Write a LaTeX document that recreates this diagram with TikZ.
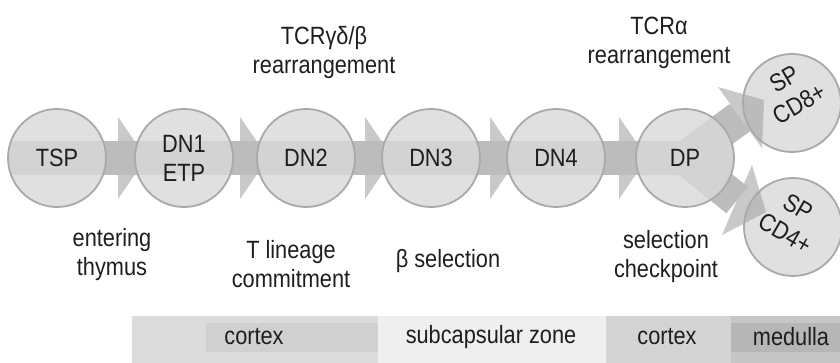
\documentclass[tikz,border=0pt]{standalone}
\usepackage{fontspec}
\setmainfont{Liberation Sans}[FakeStretch=0.87]
\usetikzlibrary{calc}
\pgfdeclarelayer{back}
\pgfdeclarelayer{front}
\pgfsetlayers{back,main,front}
\definecolor{cellfill}{HTML}{D9D9D9}
\definecolor{celledge}{HTML}{A9A9A9}
\definecolor{headfill}{HTML}{C9C9C9}
\definecolor{shaftfill}{HTML}{BCBCBC}
\definecolor{inkc}{HTML}{1E1E1E}
\definecolor{zoneA}{HTML}{DCDCDC}
\definecolor{zoneAin}{HTML}{D0D0D0}
\definecolor{zoneB}{HTML}{EFEFEF}
\definecolor{zoneC}{HTML}{D4D4D4}
\definecolor{zoneD}{HTML}{C6C6C6}
\definecolor{zoneDin}{HTML}{B6B6B6}
\begin{document}
\begin{tikzpicture}[x=1pt,y=-1pt,
  every node/.style={font=\fontsize{25}{29}\selectfont, text=inkc},
  cell/.style={circle, minimum size=98pt, inner sep=0pt, draw=celledge,
    line width=1.8pt, fill=cellfill, fill opacity=0.82, text opacity=1,
    align=center},
  lbl/.style={align=center, inner sep=0pt},
  tilted/.style={inner sep=0pt, rotate=#1},
  head/.style={fill=headfill, draw=none},
  shaft/.style={fill=shaftfill, draw=none},
]
\useasboundingbox (0,0) rectangle (840,363);

% cell stages
\node[cell] (tsp) at (57,158) {TSP};
\node[cell] (dn1) at (184,158) {DN1\\ETP};
\node[cell] (dn2) at (306,158) {DN2};
\node[cell] (dn3) at (431,158) {DN3};
\node[cell] (dn4) at (556,158) {DN4};
\node[cell] (dp)  at (685,158) {DP};
\node[cell] (sp8) at (792,103) {};
\node[cell] (sp4) at (793,227) {};

% tilted labels of the single-positive cells
\node[tilted=30]  (sp8a) at ($(sp8.center)+(-8,-24)$) {SP};
\node[tilted=30]  (sp8b) at ($(sp8.center)+(7,1)$) {CD8+};
\node[tilted=-30] (sp4a) at ($(sp4.center)+(5,-20)$) {SP};
\node[tilted=-30] (sp4b) at ($(sp4.center)+(-8,6)$) {CD4+};

% block arrows behind the cells
\begin{pgfonlayer}{back}
  \foreach \b in {dn1,dn2,dn3,dn4,dp} {
    \fill[head] ($(\b.west)+(-16,-41)$) -- ($(\b.west)+(12,0)$)
      -- ($(\b.west)+(-16,41)$) -- cycle;
  }
  % branch heads
  \fill[head] ($(dp.center)+(33,-71)$) -- ($(dp.center)+(79,-58)$)
    -- ($(dp.center)+(77,-10)$) -- cycle;
  \fill[head] ($(dp.center)+(67,7)$) -- ($(dp.center)+(81,54)$)
    -- ($(dp.center)+(37,77)$) -- cycle;
  % shafts
  \fill[shaft] ($(tsp.center)+(0,-17)$) rectangle ($(dp.center)+(0,17)$);
  \begin{scope}
    \clip (tsp.center) circle (49pt);
    \fill[shaft] ($(tsp.center)+(-60,-17)$) rectangle ($(tsp.center)+(0,17)$);
  \end{scope}
  \begin{scope}
    \clip (dp.center) circle (49pt);
    \fill[shaft] ($(dp.center)+(0,-17)$) rectangle ($(dp.center)+(60,17)$);
  \end{scope}
  \draw[shaftfill, line width=34pt] (dp.center) -- ($(dp.center)+(55,-40.5)$);
  \draw[shaftfill, line width=34pt] (dp.center) -- ($(dp.center)+(52,42)$);
\end{pgfonlayer}

% arrow tips showing through the single-positive cells
\begin{pgfonlayer}{front}
  \begin{scope}
    \clip (sp8.center) circle (48pt);
    \fill[black, fill opacity=0.12] ($(dp.center)+(33,-71)$) -- ($(dp.center)+(79,-58)$)
      -- ($(dp.center)+(77,-10)$) -- cycle;
  \end{scope}
  \begin{scope}
    \clip (sp4.center) circle (48pt);
    \fill[black, fill opacity=0.12] ($(dp.center)+(67,7)$) -- ($(dp.center)+(81,54)$)
      -- ($(dp.center)+(37,77)$) -- cycle;
  \end{scope}
\end{pgfonlayer}

% stage annotations
\node[lbl] (rgd) at (324,53) {TCRγδ/β\\rearrangement};
\node[lbl] (ra)  at (659,43) {TCRα\\rearrangement};
\node[lbl] (ent) at (112,255) {entering\\thymus};
\node[lbl] (tlc) at (291,264) {T lineage\\commitment};
\node[lbl, anchor=base] (bsel) at (448,268) {β selection};
\node[lbl] (chk) at (666,257) {selection\\checkpoint};

% zones
\fill[zoneA] (132,316) rectangle (378,363);
\fill[zoneAin] (206,323) rectangle (378,352);
\fill[zoneB] (378,316) rectangle (606,363);
\fill[zoneC] (606,316) rectangle (731,363);
\fill[zoneD] (731,316) rectangle (840,363);
\fill[zoneDin] (731,323) rectangle (840,352);
\node (cx1) at (254,337) {cortex};
\node (scz) at (491,337) {subcapsular zone};
\node (cx2) at (667,337) {cortex};
\node (med) at (791,337) {medulla};
\end{tikzpicture}
\end{document}
